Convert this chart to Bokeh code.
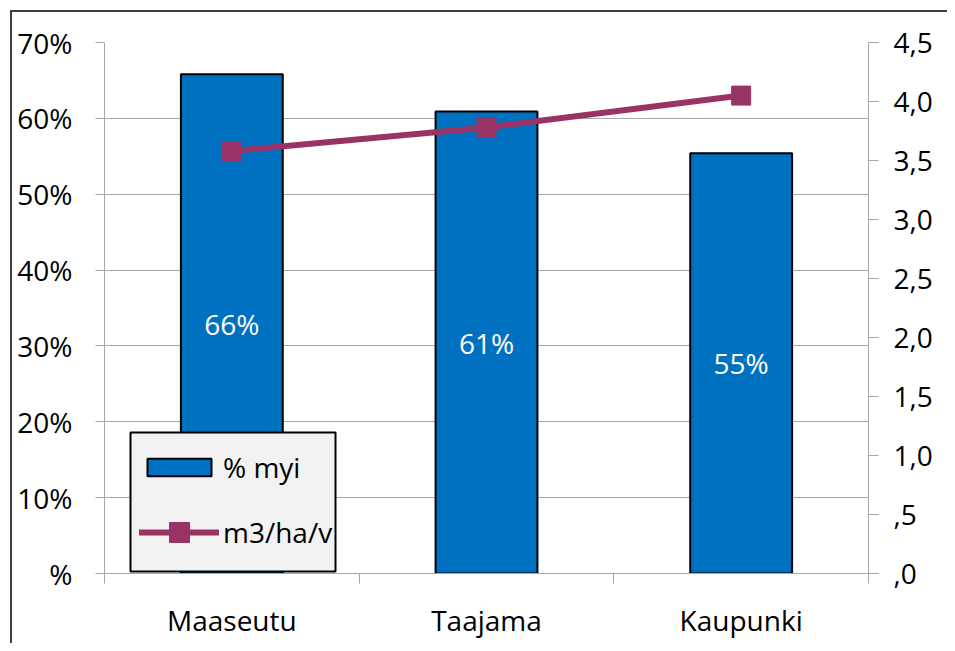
from bokeh.plotting import figure
from bokeh.models import (Range1d, LinearAxis, FixedTicker, Legend, LegendItem,
                          BoxAnnotation, ColumnDataSource)
from bokeh.core.properties import value
from bokeh.embed import file_html
from bokeh.resources import INLINE

# ---- data ----
categories = ["Maaseutu", "Taajama", "Kaupunki"]
share_myi = [65.8, 60.9, 55.4]          # % myi (left axis, percent)
volume_m3 = [3.58, 3.78, 4.05]          # m3/ha/v (right axis)
left_ticks = [0, 10, 20, 30, 40, 50, 60, 70]
left_tick_labels = ["%", "10%", "20%", "30%", "40%", "50%", "60%", "70%"]
right_ticks = [0.0, 0.5, 1.0, 1.5, 2.0, 2.5, 3.0, 3.5, 4.0, 4.5]
right_tick_labels = [",0", ",5", "1,0", "1,5", "2,0", "2,5", "3,0", "3,5", "4,0", "4,5"]
series_names = ["% myi", "m3/ha/v"]

FONT = "Open Sans"
FS = "28px"
BAR = "#0070C0"
LINE = "#993366"
GRID = "#A6A6A6"
FRAME_COL = "#404040"

xs = [i + 0.5 for i in range(len(categories))]
bar_labels = [f"{round(v)}%" for v in share_myi]
src = ColumnDataSource(dict(x=xs, share=share_myi, half=[v / 2 for v in share_myi],
                            lab=bar_labels, vol=volume_m3))

p = figure(width=947, height=643, output_backend="svg", toolbar_location=None,
           x_range=Range1d(0, len(categories)), y_range=Range1d(0, 70),
           min_border_left=104, min_border_right=79, min_border_top=42,
           min_border_bottom=70)
p.extra_y_ranges = {"vol": Range1d(0, 4.5)}
p.outline_line_color = None
p.background_fill_color = "white"
p.border_fill_color = None
# outer chart border (left + top lines, cut at right/bottom like the reference)
p.styles = {
    "background": (f"linear-gradient({FRAME_COL},{FRAME_COL}) 10px 10px / 2px 100% no-repeat, "
                   f"linear-gradient({FRAME_COL},{FRAME_COL}) 10px 10px / 100% 2px no-repeat, white")
}

# axes
p.xaxis.ticker = FixedTicker(ticks=xs, minor_ticks=list(range(len(categories) + 1)))
p.xaxis.major_label_overrides = {x: c for x, c in zip(xs, categories)}
p.xaxis.major_tick_line_color = None
p.xaxis.minor_tick_in = 0
p.xaxis.minor_tick_out = 10
p.xaxis.minor_tick_line_color = GRID
p.xaxis.axis_line_color = GRID
p.xaxis.major_label_standoff = 17
p.xaxis.major_label_text_font = FONT
p.xaxis.major_label_text_font_size = FS
p.xaxis.major_label_text_color = "black"
p.xgrid.visible = False

p.yaxis.ticker = FixedTicker(ticks=left_ticks, minor_ticks=[])
p.yaxis.major_label_overrides = {t: l for t, l in zip(left_ticks, left_tick_labels)}
p.yaxis.major_tick_in = 0
p.yaxis.major_tick_out = 9
p.yaxis.major_tick_line_color = GRID
p.yaxis.axis_line_color = GRID
p.yaxis.major_label_standoff = 23
p.yaxis.major_label_text_font = FONT
p.yaxis.major_label_text_font_size = FS
p.yaxis.major_label_text_color = "black"
p.ygrid.ticker = FixedTicker(ticks=left_ticks)
p.ygrid.grid_line_color = GRID

raxis = LinearAxis(y_range_name="vol", ticker=FixedTicker(ticks=right_ticks, minor_ticks=[]))
raxis.major_label_overrides = {t: l for t, l in zip(right_ticks, right_tick_labels)}
raxis.major_tick_in = 0
raxis.major_tick_out = 10
raxis.major_tick_line_color = GRID
raxis.axis_line_color = GRID
raxis.major_label_standoff = 15
raxis.major_label_text_font = FONT
raxis.major_label_text_font_size = FS
raxis.major_label_text_color = "black"
p.add_layout(raxis, "right")

# bars
bars = p.vbar(x="x", top="share", width=0.4, source=src, fill_color=BAR,
              line_color="black", line_width=2)
p.text(x="x", y="half", text="lab", source=src, text_color="white",
       text_font=value(FONT), text_font_size=FS, text_align="center",
       text_baseline="middle")

# line
line_r = p.line(x="x", y="vol", source=src, y_range_name="vol", line_color=LINE,
                line_width=6, line_cap="round")
mark_r = p.scatter(x="x", y="vol", source=src, y_range_name="vol", marker="square",
                   size=19, fill_color=LINE, line_color=LINE)

# legend box
p.add_layout(BoxAnnotation(left=26, right=231, bottom=2, top=141,
                           left_units="screen", right_units="screen",
                           top_units="screen", bottom_units="screen",
                           fill_color="#F2F2F2", fill_alpha=1,
                           line_color="black", line_width=2, line_alpha=1))

legend = Legend(items=[LegendItem(label=series_names[0], renderers=[bars]),
                       LegendItem(label=series_names[1], renderers=[line_r])],
                location=(35, 22), orientation="vertical",
                background_fill_alpha=0, border_line_color=None,
                glyph_width=80, glyph_height=22, label_standoff=4,
                padding=0, spacing=27, margin=0,
                label_text_font=FONT, label_text_font_size=FS,
                label_text_color="black")
p.add_layout(legend, "center")

legend2 = Legend(items=[LegendItem(label=" ", renderers=[mark_r])],
                 location=(50, 16), background_fill_alpha=0, border_line_color=None,
                 glyph_width=50, glyph_height=50, padding=0, margin=0,
                 label_text_font_size="1px")
p.add_layout(legend2, "center")

open("out.html", "w").write(file_html(p, INLINE))
